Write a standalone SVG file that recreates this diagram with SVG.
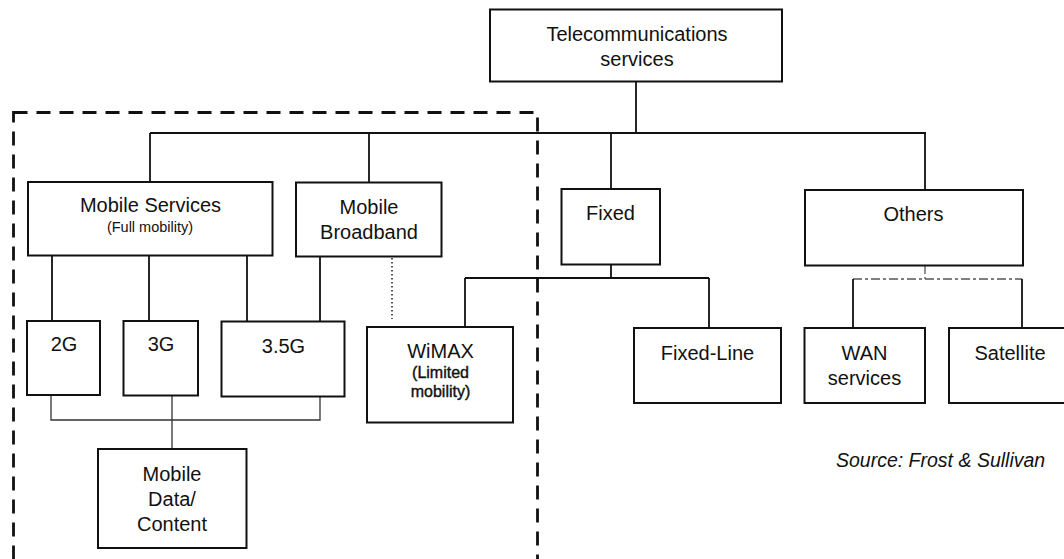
<svg xmlns="http://www.w3.org/2000/svg" width="1064" height="559" viewBox="0 0 1064 559">
  <style>
    .box { fill: #fff; stroke: #111; stroke-width: 2; }
    .lbl { font-family: "Liberation Sans", Arial, sans-serif; font-size: 20px; fill: #111; text-anchor: middle; }
    .sub { font-size: 14.5px; }
    .subb { font-size: 16px; stroke: #111; stroke-width: 0.4; }
    .src { font-family: "Liberation Sans", Arial, sans-serif; font-size: 19.5px; font-style: italic; fill: #111; }
    .ln { fill: none; stroke: #111; stroke-width: 1.8; }
    .thin { fill: none; stroke: #333; stroke-width: 1.3; }
    .dash { fill: none; stroke: #555; stroke-width: 1.3; stroke-dasharray: 9 3 3 3; }
    .dot { fill: none; stroke: #333; stroke-width: 1.6; stroke-dasharray: 1.5 2.5; }
    .frame { fill: none; stroke: #111; stroke-width: 2.8; stroke-dasharray: 14 9; }
  </style>

  <!-- mobile segment boundary -->
  <rect id="mobile-frame" class="frame" x="13.5" y="112.5" width="524" height="470"/>

  <g id="connectors">
    <!-- root to first level -->
    <path class="ln" d="M636 82 V133 M150 133 H926 M150 133 V182 M369 133 V182 M611 133 V189 M925 133 V190"/>
    <!-- mobile services / broadband to generations -->
    <path class="ln" d="M52 256 V321 M149 256 V321 M247 256 V322 M320 257 V322"/>
    <path class="dot" d="M392 258 V319"/>
    <!-- generations to mobile data -->
    <path class="thin" d="M51 395 V420 H320 V397 M172 396 V449"/>
    <!-- fixed branch -->
    <path class="ln" d="M611 264 V278 M465 278 H709 M465 278 V327 M709 278 V328"/>
    <!-- others branch -->
    <path class="dash" d="M925 265 V279 M853 279 H1022"/>
    <path class="ln" d="M853 279 V328 M1022 279 V328"/>
  </g>

  <g id="telecom">
    <rect class="box" x="490" y="9.5" width="292" height="72"/>
    <text class="lbl" x="637" y="41">Telecommunications</text>
    <text class="lbl" x="637" y="66">services</text>
  </g>

  <g id="mobile-services">
    <rect class="box" x="28" y="182" width="244.5" height="73.5"/>
    <text class="lbl" x="150.5" y="211.5">Mobile Services</text>
    <text class="lbl sub" x="150" y="232">(Full mobility)</text>
  </g>

  <g id="mobile-broadband">
    <rect class="box" x="296" y="182.5" width="145.5" height="74"/>
    <text class="lbl" x="369" y="213.5">Mobile</text>
    <text class="lbl" x="369" y="238.5">Broadband</text>
  </g>

  <g id="fixed">
    <rect class="box" x="561.5" y="189" width="98.5" height="75.5"/>
    <text class="lbl" x="610.5" y="220">Fixed</text>
  </g>

  <g id="others">
    <rect class="box" x="805" y="190" width="218" height="75.5"/>
    <text class="lbl" x="913.5" y="221">Others</text>
  </g>

  <g id="g2">
    <rect class="box" x="27" y="321" width="73" height="74"/>
    <text class="lbl" x="64" y="351">2G</text>
  </g>

  <g id="g3">
    <rect class="box" x="123.5" y="321" width="74.5" height="74.5"/>
    <text class="lbl" x="161" y="351">3G</text>
  </g>

  <g id="g35">
    <rect class="box" x="221.5" y="321.5" width="123" height="75"/>
    <text class="lbl" x="283.5" y="352.5">3.5G</text>
  </g>

  <g id="wimax">
    <rect class="box" x="367" y="327" width="146" height="95.5"/>
    <text class="lbl" x="440.5" y="357.5">WiMAX</text>
    <text class="lbl subb" x="440.5" y="378">(Limited</text>
    <text class="lbl subb" x="440.5" y="396.5">mobility)</text>
  </g>

  <g id="mobile-data">
    <rect class="box" x="98" y="449" width="148.5" height="99"/>
    <text class="lbl" x="172" y="480.5">Mobile</text>
    <text class="lbl" x="172" y="505.5">Data/</text>
    <text class="lbl" x="172" y="530.5">Content</text>
  </g>

  <g id="fixed-line">
    <rect class="box" x="634" y="328" width="147" height="75"/>
    <text class="lbl" x="707.5" y="359.5">Fixed-Line</text>
  </g>

  <g id="wan">
    <rect class="box" x="804.5" y="328" width="120.5" height="75"/>
    <text class="lbl" x="864.5" y="359.5">WAN</text>
    <text class="lbl" x="864.5" y="384.5">services</text>
  </g>

  <g id="satellite">
    <rect class="box" x="949" y="328" width="125" height="75"/>
    <text class="lbl" x="1010" y="359.5">Satellite</text>
  </g>

  <text class="src" x="836" y="466.5">Source: Frost &amp; Sullivan</text>
</svg>
